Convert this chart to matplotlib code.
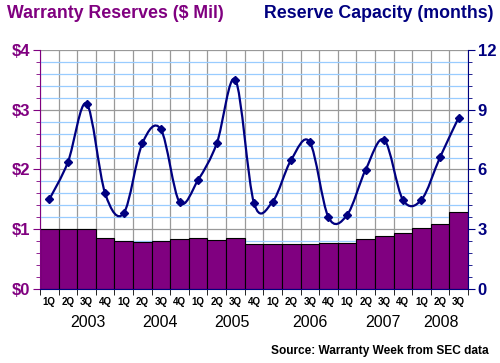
import matplotlib
matplotlib.use("Agg")
import matplotlib.pyplot as plt
import numpy as np
from matplotlib.path import Path
from matplotlib.patches import PathPatch

plt.rcParams['font.family'] = ['Liberation Sans', 'DejaVu Sans']

quarters = ['1Q', '2Q', '3Q', '4Q'] * 5 + ['1Q', '2Q', '3Q']
years = ['2003', '2004', '2005', '2006', '2007', '2008']
year_pos = [2.1, 5.95, 9.8, 14.0, 17.95, 21.05]

# warranty reserves, $ millions
reserves = [1.00, 1.00, 1.00, 0.85, 0.81, 0.79, 0.81, 0.83, 0.85, 0.82, 0.85, 0.76,
            0.75, 0.75, 0.75, 0.77, 0.77, 0.84, 0.89, 0.94, 1.02, 1.09, 1.29]
# reserve capacity, months
capacity = [4.50, 6.37, 9.31, 4.80, 3.80, 7.31, 8.01, 4.36, 5.48, 7.31, 10.50, 4.31,
            4.38, 6.49, 7.37, 3.60, 3.71, 5.99, 7.49, 4.48, 4.48, 6.62, 8.61]

purple = '#800080'
navy = '#000080'

fig = plt.figure(figsize=(5.0, 3.63), dpi=100)
ax = fig.add_axes([0.08, 0.2039, 0.856, 0.6584])
x = np.arange(len(reserves))

ax.bar(x, reserves, width=1.0, color=purple, edgecolor='black', linewidth=0.8, zorder=2)
ax.set_xlim(-0.5, len(reserves) - 0.5)
ax.set_ylim(0, 4)
ax.set_yticks([0, 1, 2, 3, 4])
ax.set_yticklabels(['$0', '$1', '$2', '$3', '$4'])
ax.set_yticks(np.arange(0, 4.01, 0.2), minor=True)
ax.set_xticks(x)
ax.set_xticklabels(quarters)
ax.set_xticks(np.arange(-0.5, len(reserves), 1.0), minor=True)

ax.set_axisbelow(True)
ax.grid(which='minor', axis='y', color='#99ccff', linewidth=0.9)
ax.grid(which='major', axis='y', color='#999999', linewidth=0.9)
ax.grid(which='minor', axis='x', color='#999999', linewidth=0.9)

ax.tick_params(axis='x', which='major', length=0, pad=6, labelsize=7)
ax.tick_params(axis='x', which='minor', length=4, color='black', direction='out')
ax.tick_params(axis='y', which='major', length=5, color=purple, labelcolor=purple,
               labelsize=12, pad=2)
ax.tick_params(axis='y', which='minor', length=3, color=purple)
for lab in ax.get_xticklabels() + ax.get_yticklabels():
    lab.set_fontweight('bold')

for s in ['top', 'right']:
    ax.spines[s].set_visible(False)
ax.spines['left'].set_color(purple)
ax.spines['bottom'].set_color(navy)

ax2 = ax.twinx()
ax2.set_ylim(0, 12)
ax2.set_yticks([0, 3, 6, 9, 12])
ax2.set_yticks(np.arange(0, 12.01, 0.6), minor=True)
ax2.tick_params(axis='y', which='major', length=5, color=navy, labelcolor=navy,
                labelsize=12, pad=2)
ax2.tick_params(axis='y', which='minor', length=3, color=navy)
for lab in ax2.get_yticklabels():
    lab.set_fontweight('bold')
for s in ['top', 'left', 'bottom']:
    ax2.spines[s].set_visible(False)
ax2.spines['right'].set_color(navy)

# smoothed line (Catmull-Rom style Bezier through the points, like Excel)
px = np.array(x, dtype=float)
py = np.array(capacity)
verts = [(px[0], py[0])]
codes = [Path.MOVETO]
n = len(px)
for i in range(n - 1):
    p0 = (px[max(i - 1, 0)], py[max(i - 1, 0)])
    p1 = (px[i], py[i])
    p2 = (px[i + 1], py[i + 1])
    p3 = (px[min(i + 2, n - 1)], py[min(i + 2, n - 1)])
    c1 = (p1[0] + (p2[0] - p0[0]) / 6, p1[1] + (p2[1] - p0[1]) / 6)
    c2 = (p2[0] - (p3[0] - p1[0]) / 6, p2[1] - (p3[1] - p1[1]) / 6)
    verts += [c1, c2, p2]
    codes += [Path.CURVE4] * 3
ax2.add_patch(PathPatch(Path(verts, codes), facecolor='none', edgecolor=navy,
                        linewidth=1.6, zorder=3))
ax2.plot(x, capacity, linestyle='none', marker='D', markersize=4,
         color=navy, zorder=4)

for yr, pos in zip(years, year_pos):
    ax.text(pos, -0.43, yr, ha='center', va='top', fontsize=11.5, color='black')

fig.text(7 / 500, 1 - 18 / 363, 'Warranty Reserves ($ Mil)', color=purple,
         fontsize=12.8, fontweight='bold', ha='left', va='baseline')
fig.text(264 / 500, 1 - 18 / 363, 'Reserve Capacity (months)', color=navy,
         fontsize=12.8, fontweight='bold', ha='left', va='baseline')
fig.text(489 / 500, 1 - 354 / 363, 'Source: Warranty Week from SEC data', color='black',
         fontsize=8.6, fontweight='bold', ha='right', va='baseline')

fig.savefig('out.png', dpi=100)
